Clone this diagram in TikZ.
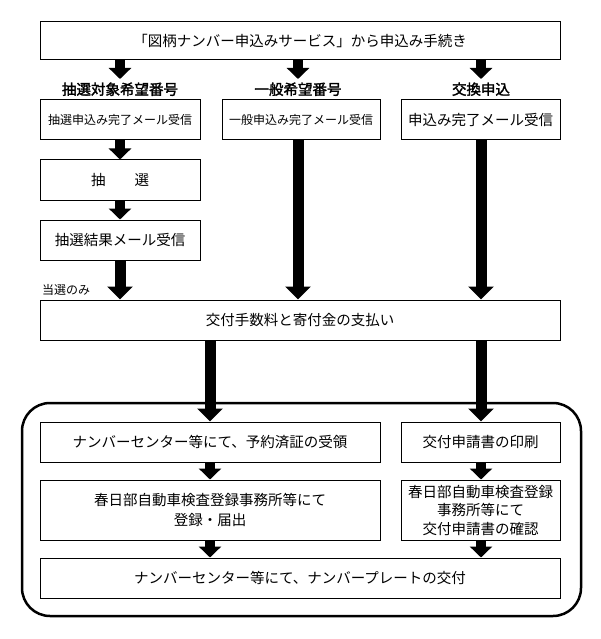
\documentclass[tikz,border=0pt]{standalone}
\usepackage{fontspec}
\setmainfont{Noto Sans CJK JP}[AutoFakeBold=2]
\usetikzlibrary{arrows.meta}
\begin{document}
\begin{tikzpicture}[x=1pt, y=-1pt,
    box/.style={draw=black, line width=1pt, inner sep=0pt, align=center, font=\fontsize{14.5}{20}\selectfont},
    small/.style={font=\fontsize{12}{15}\selectfont},
    head/.style={inner sep=0pt, minimum height=20pt, font=\fontsize{14.5}{16}\selectfont\bfseries},
    blk/.style={line width=10pt, -{Triangle[width=22pt, length=11pt]}},
    longblk/.style={line width=11pt, -{Triangle[width=25pt, length=13pt]}}]
  \useasboundingbox (0,0) rectangle (601,639);
  % outer group
  \node[draw=black, line width=2.5pt, rounded corners=28pt, inner sep=0pt,
        minimum width=559pt, minimum height=213pt] (grp) at (301.5,509.5) {};
  % top
  \node[box, minimum width=520pt, minimum height=38pt] (top) at (300,41)
    {「図柄ナンバー申込みサービス」から申込み手続き};
  \node[head, anchor=north] (h1) at (120,79) {抽選対象希望番号};
  \node[head, anchor=north] (h2) at (298,79) {一般希望番号};
  \node[head, anchor=north] (h3) at (481,79) {交換申込};
  \node[box, small, minimum width=160pt, minimum height=40pt] (b1) at (120,120) {抽選申込み完了メール受信};
  \node[box, small, minimum width=158pt, minimum height=40pt] (b2) at (301,120) {一般申込み完了メール受信};
  \node[box, minimum width=159pt, minimum height=40pt] (b3) at (480.5,120) {申込み完了メール受信};
  \node[box, minimum width=160pt, minimum height=40pt] (lot) at (120,180) {抽\hspace{2em}選};
  \node[box, minimum width=160pt, minimum height=40pt] (res) at (120,240) {抽選結果メール受信};
  \node[anchor=west, inner sep=0pt, small] (only) at (42,290) {当選のみ};
  \node[box, minimum width=520pt, minimum height=40pt] (pay) at (300,320) {交付手数料と寄付金の支払い};
  % inside group
  \node[box, minimum width=340pt, minimum height=40pt] (c1) at (210,442) {ナンバーセンター等にて、予約済証の受領};
  \node[box, minimum width=159pt, minimum height=40pt] (c2) at (480.5,442) {交付申請書の印刷};
  \node[box, minimum width=340pt, minimum height=60pt] (d1) at (210,510) {春日部自動車検査登録事務所等にて\\登録・届出};
  \node[box, minimum width=159pt, minimum height=60pt, font=\fontsize{14.5}{18.5}\selectfont] (d2) at (480.5,510) {春日部自動車検査登録\\事務所等にて\\交付申請書の確認};
  \node[box, minimum width=520pt, minimum height=40pt] (fin) at (300,578) {ナンバーセンター等にて、ナンバープレートの交付};
  % arrows
  \draw[blk] (top.south -| h1.north) -- (h1.north);
  \draw[blk] (top.south -| h2.north) -- (h2.north);
  \draw[blk] (top.south -| h3.north) -- (h3.north);
  \draw[blk] (b1.south) -- (lot.north);
  \draw[blk] (lot.south) -- (res.north);
  \draw[longblk] (res.south) -- (res.south |- pay.north);
  \draw[longblk] (b2.south -| h2.north) -- (h2.north |- pay.north);
  \draw[longblk] (b3.south -| h3.north) -- (h3.north |- pay.north);
  \draw[longblk] (pay.south -| c1.north) -- (c1.north);
  \draw[longblk] (pay.south -| h3.north) -- (h3.north |- c2.north);
  \draw[blk] (c1.south) -- (d1.north);
  \draw[blk] (c2.south -| h3.north) -- (h3.north |- d2.north);
  \draw[blk] (d1.south) -- (d1.south |- fin.north);
  \draw[blk] (d2.south -| h3.north) -- (h3.north |- fin.north);
\end{tikzpicture}
\end{document}
